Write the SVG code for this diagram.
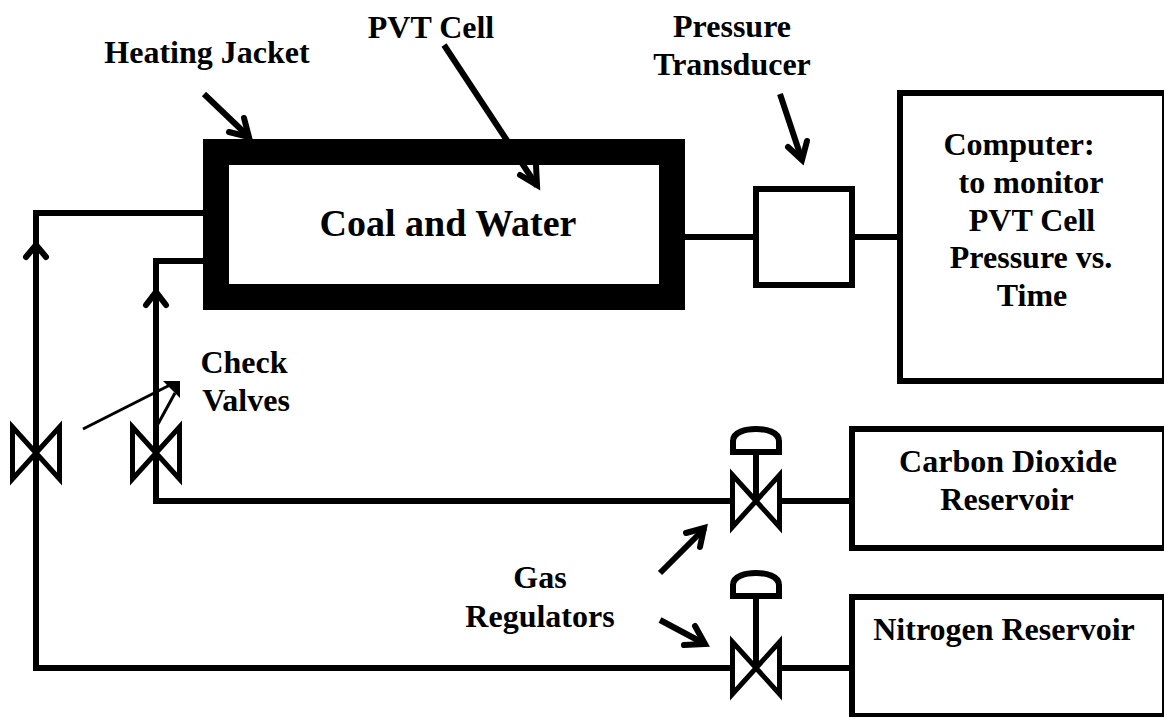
<svg xmlns="http://www.w3.org/2000/svg" width="1164" height="717" viewBox="0 0 1164 717">
<style>
text{font-family:"Liberation Serif","Times New Roman",serif;font-weight:700;font-size:32px;fill:#000;text-anchor:middle}
.l{fill:none;stroke:#000;stroke-width:6}
.v{fill:none;stroke:#000;stroke-width:5}
.b{fill:#fff;stroke:#000;stroke-width:6}
.t{fill:none;stroke:#000;stroke-width:3}
</style>
<defs>
<path id="valve" class="v" d="M-23.5 -26L23.5 26V-26L-23.5 26Z"/>
<path id="dome" class="l" d="M-23 0H23V-11C23 -20 10 -23 0 -23C-10 -23 -23 -20 -23 -11Z"/>
</defs>
<rect width="1164" height="717" fill="#fff"/>
<g id="connectors">
<path class="l" d="M204 213H36V668H733"/>
<path class="l" d="M204 261H156V501H733"/>
<path class="l" d="M684 237H756"/>
<path class="l" d="M852 237H900"/>
<path class="l" d="M779 501H852"/>
<path class="l" d="M779 668H852"/>
<path class="l" stroke-linecap="round" d="M26 257L36 245L46 257"/>
<path class="l" stroke-linecap="round" d="M146 305L156 292L166 305"/>
<path class="l" stroke-linecap="round" d="M229 132L249 137L244 118"/>
<path class="l" d="M204 94L249 137"/>
<path class="l" d="M780 94L802 160"/>
<path class="l" stroke-linecap="round" d="M788 147L802 160L807 141"/>
<path class="l" d="M660 573L705 528"/>
<path class="l" stroke-linecap="round" d="M686 533L704 528L700 547"/>
<path class="l" d="M660 620L705 644"/>
<path class="l" stroke-linecap="round" d="M684 645L705 644L695 626"/>
<path class="t" d="M83 429L170 385M158 424L175 393"/>
<path d="M163 381H180V398Z" fill="#000"/>
</g>
<g id="heating-jacket"><rect x="216" y="152" width="456" height="145" fill="#fff" stroke="#000" stroke-width="26"/></g>
<g id="pvt-arrow">
<path class="l" d="M444 45L537 186"/>
<path class="l" stroke-linecap="round" d="M520 175L537 185L536 165"/>
</g>
<g id="coal-water"><text x="448" y="236" style="font-size:38px">Coal and Water</text></g>
<g id="transducer"><rect class="b" x="756" y="189" width="96" height="96"/></g>
<g id="computer"><rect class="b" x="900" y="93" width="265" height="288"/>
<text x="1019" y="155">Computer:</text><text x="1031" y="193">to monitor</text><text x="1032" y="231">PVT Cell</text><text x="1031" y="268">Pressure vs.</text><text x="1032" y="306">Time</text></g>
<g id="co2-reservoir"><rect class="b" x="852" y="429" width="313" height="119"/>
<text x="1008" y="472">Carbon Dioxide</text><text x="1007" y="510">Reservoir</text></g>
<g id="n2-reservoir"><rect class="b" x="852" y="597" width="313" height="119"/>
<text x="1004" y="640">Nitrogen Reservoir</text></g>
<g id="check-valve-1"><use href="#valve" x="36" y="453"/></g>
<g id="check-valve-2"><use href="#valve" x="156" y="453"/></g>
<g id="regulator-co2"><use href="#valve" x="756" y="501"/><use href="#dome" x="756" y="452"/><path class="l" d="M756 452V501"/></g>
<g id="regulator-n2"><use href="#valve" x="756" y="668"/><use href="#dome" x="756" y="596"/><path class="l" d="M756 596V668"/></g>
<g id="labels">
<text x="207" y="63">Heating Jacket</text>
<text x="431" y="38">PVT Cell</text>
<text x="732" y="37">Pressure</text>
<text x="732" y="75">Transducer</text>
<text x="244" y="373">Check</text>
<text x="246" y="411">Valves</text>
<text x="540" y="588">Gas</text>
<text x="540" y="627">Regulators</text>
</g>
</svg>
